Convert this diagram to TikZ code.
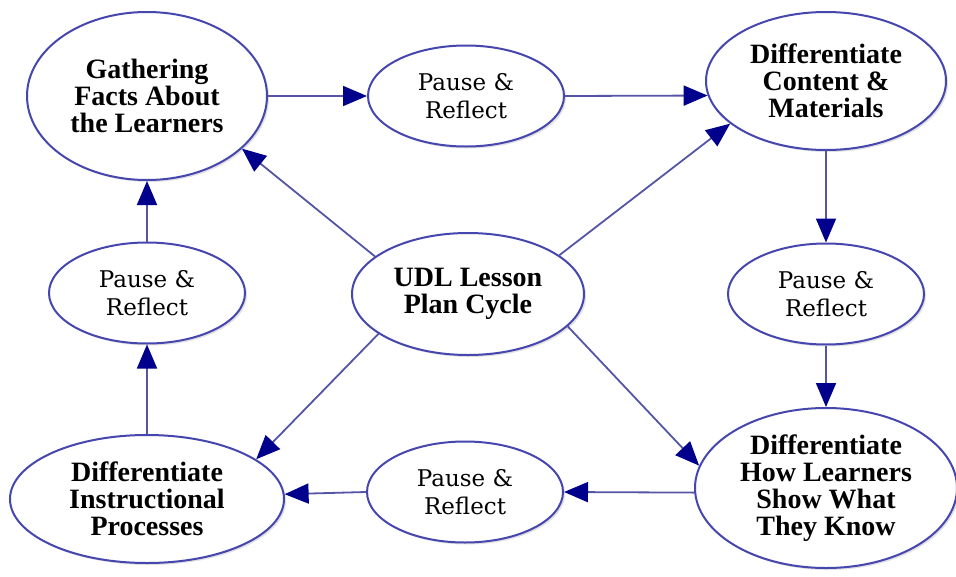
\documentclass[tikz,border=0pt]{standalone}
\usepackage{fontspec}
\setmainfont{Liberation Serif}
\newfontfamily\pfont{DejaVu Serif}
\usetikzlibrary{arrows.meta,shapes.geometric,shadows}
\definecolor{ellline}{RGB}{70,70,175}
\definecolor{edgecol}{RGB}{85,85,165}
\definecolor{tipcol}{RGB}{0,0,140}
\begin{document}
\begin{tikzpicture}[x=1pt,y=-1pt,
  ell/.style={ellipse, draw=ellline, line width=2pt, fill=white, inner sep=0pt, align=center,
    drop shadow={fill=black!40, opacity=0.3, shadow xshift=2pt, shadow yshift=-2pt}},
  big/.style={ell, font=\fontsize{28}{27}\selectfont\bfseries},
  pr/.style={ell, font=\pfont\fontsize{23}{28}\selectfont, minimum width=196pt, minimum height=101pt},
  edge/.style={draw=edgecol, line width=1.8pt, -{Triangle[length=24pt,width=20pt,color=tipcol]}}]
\fill[white] (0,0) rectangle (956,576);
\useasboundingbox (0,0) rectangle (956,576);

\node[big, minimum width=240pt, minimum height=168pt] (G) at (147,96) {Gathering\\Facts About\\the Learners};
\node[pr] (P1) at (466,96) {Pause \&\\Reflect};
\node[big, minimum width=240pt, minimum height=138pt] (C) at (826,81) {Differentiate\\Content \&\\Materials};
\node[pr] (P2) at (826,294) {Pause \&\\Reflect};
\node[big, minimum width=262pt, minimum height=160pt] (H) at (826,488) {Differentiate\\How Learners\\Show What\\They Know};
\node[pr] (P3) at (465,492) {Pause \&\\Reflect};
\node[big, minimum width=274pt, minimum height=128pt] (I) at (147,499) {Differentiate\\Instructional\\Processes};
\node[pr] (P4) at (147,293) {Pause \&\\Reflect};
\node[big, minimum width=232pt, minimum height=122pt] (U) at (468,294) {UDL Lesson\\Plan Cycle};

\draw[edge] (G.east) -- (P1.west);
\draw[edge] (P1.east) -- (C.187);
\draw[edge] (C.south) -- (P2.north);
\draw[edge] (P2.south) -- (H.north);
\draw[edge] (H.182) -- (P3.east);
\draw[edge] (P3.west) -- (I.2);
\draw[edge] (I.north) -- (P4.south);
\draw[edge] (P4.north) -- (G.south);
\draw[edge] (U.158) -- (G.331);
\draw[edge] (U.23) -- (C.204);
\draw[edge] (U.204) -- (I.20);
\draw[edge] (U.342) -- (H.170);
\end{tikzpicture}
\end{document}
